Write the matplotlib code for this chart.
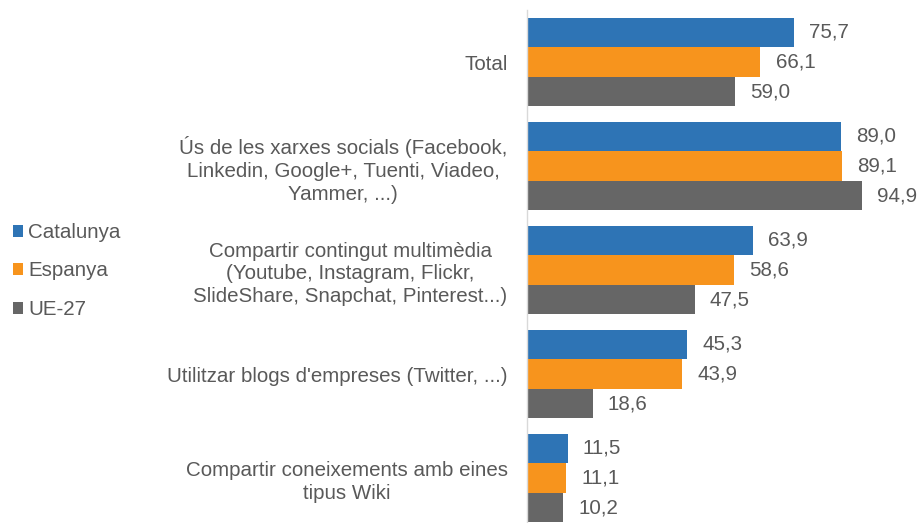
import matplotlib
matplotlib.use("Agg")
import matplotlib.pyplot as plt
import numpy as np

categories = [
    "Total",
    "Ús de les xarxes socials (Facebook,\nLinkedin, Google+, Tuenti, Viadeo,\nYammer, ...)",
    "Compartir contingut multimèdia\n(Youtube, Instagram, Flickr,\nSlideShare, Snapchat, Pinterest...)",
    "Utilitzar blogs d'empreses (Twitter, ...)",
    "Compartir coneixements amb eines\ntipus Wiki",
]
series_names = ["Catalunya", "Espanya", "UE-27"]
catalunya = [75.7, 89.0, 63.9, 45.3, 11.5]
espanya = [66.1, 89.1, 58.6, 43.9, 11.1]
ue27 = [59.0, 94.9, 47.5, 18.6, 10.2]
colors = ["#2E74B5", "#F7941D", "#666666"]

plt.rcParams['font.family'] = ['Liberation Sans', 'DejaVu Sans']
text_color = "#595959"
fs = 14.8

W, H = 920, 523
fig = plt.figure(figsize=(W/100, H/100), dpi=100)
ax = fig.add_axes([527/W, (H-530)/H, (880-527)/W, 520/H])

n = len(categories)
y = np.arange(n)
bh = 0.285
data = [catalunya, espanya, ue27]
for i, (vals, c, name) in enumerate(zip(data, colors, series_names)):
    pos = y + (i - 1) * bh
    ax.barh(pos, vals, height=bh, color=c, label=name)
    for p, v in zip(pos, vals):
        ax.text(v + 4.3, p, f"{v:.1f}".replace(".", ","), va='center', ha='left',
                fontsize=fs, color=text_color)

ax.set_ylim(n - 0.5, -0.5)
ax.set_xlim(0, 100)
ax.set_yticks(y)
ax.set_yticklabels(categories, fontsize=fs, color=text_color, multialignment='center',
                   linespacing=1.25)
ax.tick_params(axis='y', length=0, pad=14)
ax.set_xticks([])
for s in ['top', 'right', 'bottom']:
    ax.spines[s].set_visible(False)
ax.spines['left'].set_color('#D9D9D9')
ax.spines['left'].set_linewidth(1.0)

leg = fig.legend(loc='center left', bbox_to_anchor=(13/W, (H-271)/H), frameon=False,
                 fontsize=fs, handlelength=0.5, handleheight=0.5, handletextpad=0.25,
                 labelspacing=0.95, borderaxespad=0, borderpad=0)
for t in leg.get_texts():
    t.set_color(text_color)

fig.savefig("out.png", dpi=100)
